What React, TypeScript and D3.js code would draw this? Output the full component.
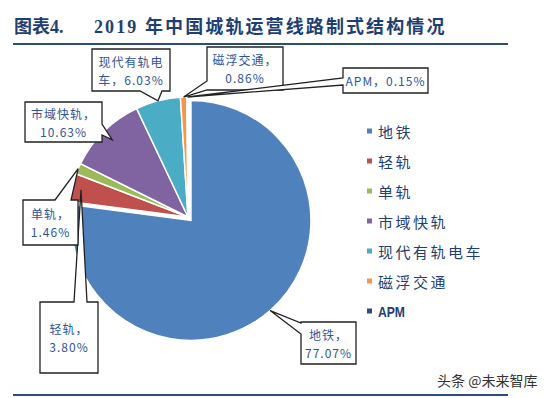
import React, { useEffect, useRef } from "react";
import * as d3 from "d3";

// 数据
const categories = ["地铁", "轻轨", "单轨", "市域快轨", "现代有轨电车", "磁浮交通", "APM"];
const shares = [77.07, 3.8, 1.46, 10.63, 6.03, 0.86, 0.15];
const colors = ["#4F81BD", "#C0504D", "#9BBB59", "#8064A2", "#4BACC6", "#F79646", "#2C4D75"];
const titleLeft = "图表4.";
const titleRight = "2019 年中国城轨运营线路制式结构情况";
const watermark = "头条 @未来智库";

// callout boxes: [x0, y0, x1, y1], side of pointer, base a..b, radius factor for tip, chars on first line
const callouts = [
  { box: [301, 322, 356, 364], side: "left", a: 323, b: 334, rf: 1.0, brk: 3 },
  { box: [40, 302, 98, 373], side: "top", a: 74, b: 87, rf: 0.92, brk: 3 },
  { box: [23, 200, 78, 245], side: "top", a: 55, b: 71, rf: 1.0, brk: 3 },
  { box: [25, 102, 102, 142], side: "right", a: 124, b: 135, rf: 0.9, brk: 5 },
  { box: [92, 49, 170, 91], side: "bottom", a: 140, b: 162, rf: 1.0, brk: 5 },
  { box: [207, 47, 283, 90], side: "left", a: 81, b: 90, rf: 1.0, brk: 5 },
  { box: [343, 68, 428, 93], side: "left", a: 78, b: 85, rf: 1.0, brk: 0 },
];

const App = () => {
  const ref = useRef<SVGSVGElement>(null);

  useEffect(() => {
    const width = 548;
    const height = 398;
    const cx = 188;
    const cy = 217;
    const radius = 120;
    const explode = 4.5;

    const svg = d3.select(ref.current).attr("width", width).attr("height", height);
    svg.selectAll("*").remove();

    svg.append("rect").attr("width", width).attr("height", height).attr("fill", "white");

    // 标题
    const title = svg.append("text")
      .attr("y", 33)
      .attr("fill", "#1F3F73")
      .attr("font-family", "'Liberation Serif', 'Noto Sans CJK SC', serif")
      .attr("font-weight", "bold")
      .attr("font-size", "18px");
    title.append("tspan").attr("x", 14).text(titleLeft);
    title.append("tspan").attr("x", 94).attr("letter-spacing", "2.1px").text(titleRight);

    svg.append("line")
      .attr("x1", 13).attr("x2", 508).attr("y1", 44).attr("y2", 44)
      .attr("stroke", "#2C4D7C").attr("stroke-width", 2);
    svg.append("line")
      .attr("x1", 13).attr("x2", 508).attr("y1", 395).attr("y2", 395)
      .attr("stroke", "#2C4D7C").attr("stroke-width", 2);

    // 饼图
    const pie = d3.pie<number>().sort(null).value((d) => d);
    const arcs = pie(shares);
    const arc = d3.arc<d3.PieArcDatum<number>>().innerRadius(0).outerRadius(radius);

    const g = svg.append("g").attr("transform", `translate(${cx},${cy})`);
    const offset = (d: d3.PieArcDatum<number>, i: number) => {
      if (i !== 0) return [0, 0];
      const mid = (d.startAngle + d.endAngle) / 2;
      return [explode * Math.sin(mid), -explode * Math.cos(mid)];
    };

    g.selectAll("path")
      .data(arcs)
      .join("path")
      .attr("d", arc)
      .attr("transform", (d, i) => {
        const [dx, dy] = offset(d, i);
        return `translate(${dx},${dy})`;
      })
      .attr("fill", (d, i) => colors[i])
      .attr("stroke", "white")
      .attr("stroke-width", 1.5);

    // 标注框
    const labels = svg.append("g");
    arcs.forEach((d, i) => {
      const c = callouts[i];
      const [x0, y0, x1, y1] = c.box;
      const mid = (d.startAngle + d.endAngle) / 2;
      const [dx, dy] = offset(d, i);
      const r = radius * c.rf;
      const tx = cx + dx + r * Math.sin(mid);
      const ty = cy + dy - r * Math.cos(mid);
      let p = "";
      if (c.side === "bottom") {
        p = `M${x0},${y0}H${x1}V${y1}H${c.b}L${tx},${ty}L${c.a},${y1}H${x0}Z`;
      } else if (c.side === "top") {
        p = `M${x0},${y0}H${c.a}L${tx},${ty}L${c.b},${y0}H${x1}V${y1}H${x0}Z`;
      } else if (c.side === "left") {
        p = `M${x0},${y0}H${x1}V${y1}H${x0}V${c.b}L${tx},${ty}L${x0},${c.a}Z`;
      } else {
        p = `M${x0},${y0}H${x1}V${c.a}L${tx},${ty}L${x1},${c.b}V${y1}H${x0}Z`;
      }
      labels.append("path")
        .attr("d", p)
        .attr("fill", "white")
        .attr("stroke", "#222")
        .attr("stroke-width", 1.3)
        .attr("stroke-linejoin", "miter");

      const full = `${categories[i]}，${shares[i].toFixed(2)}%`;
      const lines = c.brk ? [full.slice(0, c.brk), full.slice(c.brk)] : [full];
      const mx = (x0 + x1) / 2;
      const my = (y0 + y1) / 2;
      lines.forEach((ln, j) => {
        labels.append("text")
          .attr("x", mx)
          .attr("y", my + (j - (lines.length - 1) / 2) * 18)
          .attr("text-anchor", "middle")
          .attr("dominant-baseline", "central")
          .attr("fill", "#2F5597")
          .attr("font-family", "'Noto Sans CJK SC', sans-serif")
          .attr("font-size", "12px")
          .attr("letter-spacing", "1px")
          .text(ln);
      });
    });

    // 图例
    const legendY = d3.scalePoint<string>().domain(categories).range([131, 311]);
    const legend = svg.append("g");
    categories.forEach((cat, i) => {
      const y = legendY(cat) as number;
      legend.append("rect")
        .attr("x", 367).attr("y", y - 2.5)
        .attr("width", 5).attr("height", 5)
        .attr("fill", colors[i]);
      const t = legend.append("text")
        .attr("x", 378)
        .attr("y", y)
        .attr("dominant-baseline", "central")
        .attr("fill", "#1F3F73")
        .text(cat);
      if (cat === "APM") {
        t.attr("font-family", "'Liberation Sans', Arial, sans-serif")
          .attr("font-weight", "bold")
          .attr("font-size", "15px")
          .attr("textLength", 27)
          .attr("lengthAdjust", "spacingAndGlyphs");
      } else {
        t.attr("font-family", "'Noto Sans CJK SC', sans-serif")
          .attr("font-size", "15px")
          .attr("letter-spacing", "2.5px");
      }
    });

    // 水印
    svg.append("text")
      .attr("x", 437)
      .attr("y", 380)
      .attr("dominant-baseline", "central")
      .attr("fill", "#333")
      .attr("font-family", "'Noto Sans CJK SC', sans-serif")
      .attr("font-size", "14px")
      .text(watermark);
  }, []);

  return (
    <div style={{ position: "absolute", left: 0, top: 0 }}>
      <svg ref={ref} style={{ display: "block" }}></svg>
    </div>
  );
};

export default App;
